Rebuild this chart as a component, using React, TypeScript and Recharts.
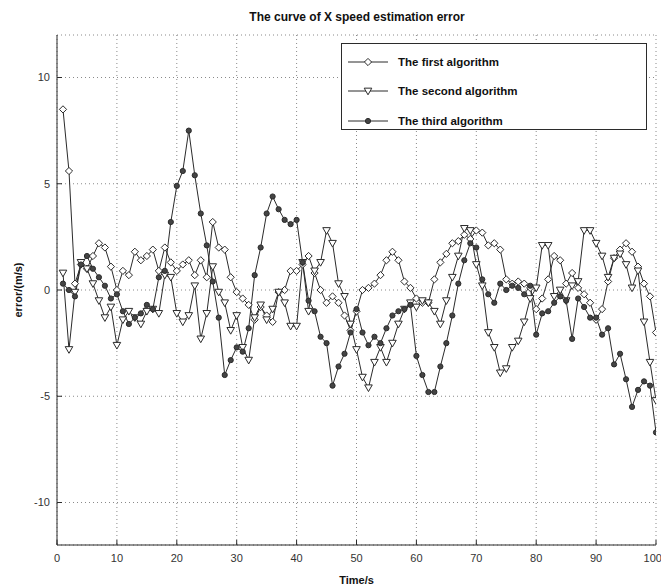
import React from 'react';
import { LineChart, Line, XAxis, YAxis, CartesianGrid, Legend } from 'recharts';

// error values, one per second, t = 1..100
const firstAlg = [
  8.5, 5.6, 0.3, 1.2, 1.0, 1.6, 2.2, 2.0, 1.1, 0.0,
  0.9, 0.7, 1.8, 1.4, 1.6, 1.9, 0.9, 2.0, 1.3, 0.9,
  1.2, 1.4, 0.7, 1.4, 0.6, 3.2, 2.0, 1.9, 0.6, -0.1,
  -0.4, -0.7, -1.4, -0.8, -1.2, -1.5, -0.1, 0.0, 0.9, 0.9,
  1.2, 1.6, 0.8, 0.0, -0.6, -0.3, -0.6, -1.2, -1.9, -1.0,
  0.0, 0.1, 0.3, 0.7, 1.4, 1.8, 1.4, 0.4, 0.1, -0.4,
  -0.6, -0.6, 0.5, 1.3, 1.7, 2.2, 2.3, 2.6, 2.4, 2.8,
  2.7, 2.1, 2.2, 1.9, 0.5, 0.3, 0.4, 0.3, 0.1, -0.9,
  -0.4, 0.5, 1.6, 1.4, 0.3, 0.8, 0.1, -0.2, -0.6, -1.4,
  -0.9, 0.4, 1.5, 1.9, 2.2, 1.8, 1.1, 0.3, -0.3, -2.0,
];

const secondAlg = [
  0.8, -2.8, -0.1, 1.3, 1.0, 0.3, -0.5, -1.3, -0.8, -2.6,
  -1.4, -1.0, -1.3, -1.6, -1.0, -0.9, -1.1, 0.7, 0.6, -1.1,
  -1.5, -1.2, 0.2, -2.3, -1.1, 1.1, -0.1, -0.6, -1.9, -1.2,
  -2.7, -3.3, -1.3, -0.7, -1.4, -0.9, -0.1, -0.6, -1.7, -1.7,
  1.3, -1.0, 0.9, 1.3, 2.8, 2.2, 0.3, -0.3, -1.6, -2.8,
  -4.1, -4.6, -3.4, -2.7, -3.4, -2.5, -1.6, -0.9, -0.6, -0.8,
  -0.5, -0.6, -1.0, -1.6, -0.5, 0.6, 1.6, 2.9, 2.8, 1.2,
  0.2, -2.0, -2.7, -3.9, -3.7, -2.7, -2.4, -1.5, -0.4, 0.1,
  2.1, 2.1, -0.3, 0.0, -0.5, 0.2, 0.4, 2.8, 2.8, 2.2,
  1.6, 0.6, 1.5, 1.7, 1.2, 0.1, 0.9, -1.5, -3.4, -5.2,
];

const thirdAlg = [
  0.3, 0.0, -0.3, 1.2, 1.6, 1.0, 0.6, 0.2, -0.4, -0.2,
  -1.0, -1.6, -1.3, -1.1, -0.7, -0.9, 0.6, 0.9, 3.2, 4.9,
  5.6, 7.5, 5.4, 3.6, 2.1, 0.4, -1.3, -4.0, -3.3, -2.7,
  -2.9, -1.8, 0.7, 2.0, 3.6, 4.4, 3.8, 3.3, 3.1, 3.3,
  1.3, -0.5, -1.0, -2.2, -2.5, -4.5, -3.6, -3.0, -2.0, -0.9,
  -2.0, -2.6, -2.2, -2.5, -1.8, -1.2, -1.0, -0.9, -0.7, -3.1,
  -4.0, -4.8, -4.8, -3.6, -2.5, -1.2, 0.3, 1.4, 2.2, 2.0,
  0.5, -0.2, -0.6, 0.3, 0.0, 0.2, 0.1, -0.2, 0.2, -2.1,
  -1.1, -1.0, -0.6, -0.3, -0.5, -2.3, -0.4, -0.8, -1.3, -1.3,
  -2.1, -1.8, -3.5, -3.0, -4.2, -5.5, -4.7, -4.3, -4.5, -6.7,
];

const seriesNames = ['The first algorithm', 'The second algorithm', 'The third algorithm'];
const xTicks = [0, 10, 20, 30, 40, 50, 60, 70, 80, 90, 100];
const yTicks = [-10, -5, 0, 5, 10];

const data = firstAlg.map((v, i) => ({
  t: i + 1,
  first: v,
  second: secondAlg[i],
  third: thirdAlg[i],
}));

const INK = '#2b2b2b';
const FONT = '"Liberation Sans", Arial, sans-serif';

const diamondPath = (cx: number, cy: number, s = 3.6) =>
  `M${cx},${cy - s}L${cx + s},${cy}L${cx},${cy + s}L${cx - s},${cy}Z`;
const trianglePath = (cx: number, cy: number, s = 3.8) =>
  `M${cx - s},${cy - s * 0.75}L${cx + s},${cy - s * 0.75}L${cx},${cy + s}Z`;

const DiamondDot = (props: any) => {
  const { cx, cy, index } = props;
  if (cx == null || cy == null) return <g key={`d-${index}`} />;
  return <path key={`d-${index}`} d={diamondPath(cx, cy)} fill="#fff" stroke={INK} strokeWidth={1} />;
};

const TriangleDot = (props: any) => {
  const { cx, cy, index } = props;
  if (cx == null || cy == null) return <g key={`t-${index}`} />;
  return <path key={`t-${index}`} d={trianglePath(cx, cy)} fill="#fff" stroke={INK} strokeWidth={1} />;
};

const CircleDot = (props: any) => {
  const { cx, cy, index } = props;
  if (cx == null || cy == null) return <g key={`c-${index}`} />;
  return <circle key={`c-${index}`} cx={cx} cy={cy} r={2.6} fill="#444" stroke={INK} strokeWidth={1} />;
};

const LegendBox = () => {
  const icons = [
    (x: number, y: number) => <path d={diamondPath(x, y)} fill="#fff" stroke={INK} />,
    (x: number, y: number) => <path d={trianglePath(x, y)} fill="#fff" stroke={INK} />,
    (x: number, y: number) => <circle cx={x} cy={y} r={2.6} fill="#444" stroke={INK} />,
  ];
  return (
    <div
      style={{
        width: 306,
        height: 87,
        border: `1.5px solid ${INK}`,
        background: '#fff',
        boxSizing: 'border-box',
        paddingTop: 3,
      }}
    >
      {seriesNames.map((name, i) => (
        <div key={name} style={{ display: 'flex', alignItems: 'center', height: 29.5 }}>
          <svg width={52} height={14} style={{ marginLeft: 2 }}>
            <line x1={4} y1={7} x2={44} y2={7} stroke={INK} strokeWidth={1} />
            {icons[i](24, 7)}
          </svg>
          <span style={{ fontFamily: FONT, fontWeight: 'bold', fontSize: 11.5, color: '#111', marginLeft: 2 }}>
            {name}
          </span>
        </div>
      ))}
    </div>
  );
};

export default function App() {
  return (
    <div style={{ position: 'relative', width: 661, height: 585, background: '#fff' }}>
      <style>{'body{margin:0;}'}</style>
      <div
        style={{
          position: 'absolute',
          top: 10,
          left: 57,
          width: 600,
          textAlign: 'center',
          fontFamily: FONT,
          fontWeight: 'bold',
          fontSize: 12,
          color: '#111',
        }}
      >
        The curve of X speed estimation error
      </div>
      <LineChart width={661} height={585} data={data} margin={{ top: 35, right: 5, bottom: 0, left: 0 }}>
        <CartesianGrid stroke="#8a8a8a" strokeDasharray="1 3" horizontal vertical />
        <XAxis
          dataKey="t"
          type="number"
          domain={[0, 100]}
          ticks={xTicks}
          height={40}
          allowDataOverflow
          stroke={INK}
          tickSize={-5}
          tickMargin={14}
          tick={{ fill: '#333', fontSize: 11, fontFamily: FONT }}
          label={{
            value: 'Time/s',
            position: 'insideBottom',
            offset: 1,
            style: { fontFamily: FONT, fontWeight: 'bold', fontSize: 11, fill: '#111' },
          }}
        />
        <XAxis
          xAxisId="top"
          dataKey="t"
          type="number"
          orientation="top"
          domain={[0, 100]}
          ticks={xTicks}
          height={0}
          stroke={INK}
          tickSize={-5}
          tick={false}
        />
        <YAxis
          type="number"
          domain={[-12, 12]}
          ticks={yTicks}
          width={57}
          allowDataOverflow
          stroke={INK}
          tickSize={-5}
          tickMargin={12}
          tick={{ fill: '#333', fontSize: 11, fontFamily: FONT }}
          label={{
            value: 'error/(m/s)',
            angle: -90,
            position: 'insideLeft',
            offset: 18,
            style: { textAnchor: 'middle', fontFamily: FONT, fontWeight: 'bold', fontSize: 11, fill: '#111' },
          }}
        />
        <YAxis
          yAxisId="right"
          type="number"
          orientation="right"
          domain={[-12, 12]}
          ticks={yTicks}
          width={0}
          stroke={INK}
          tickSize={-5}
          tick={false}
        />
        <Legend
          layout="vertical"
          align="center"
          verticalAlign="middle"
          wrapperStyle={{ position: 'absolute', left: 341, top: 43, width: 306 }}
          content={() => <LegendBox />}
        />
        <Line
          type="linear"
          dataKey="first"
          name={seriesNames[0]}
          stroke={INK}
          strokeWidth={1}
          dot={DiamondDot}
          activeDot={false}
          isAnimationActive={false}
        />
        <Line
          type="linear"
          dataKey="second"
          name={seriesNames[1]}
          stroke={INK}
          strokeWidth={1}
          dot={TriangleDot}
          activeDot={false}
          isAnimationActive={false}
        />
        <Line
          type="linear"
          dataKey="third"
          name={seriesNames[2]}
          stroke={INK}
          strokeWidth={1}
          dot={CircleDot}
          activeDot={false}
          isAnimationActive={false}
        />
      </LineChart>
    </div>
  );
}
